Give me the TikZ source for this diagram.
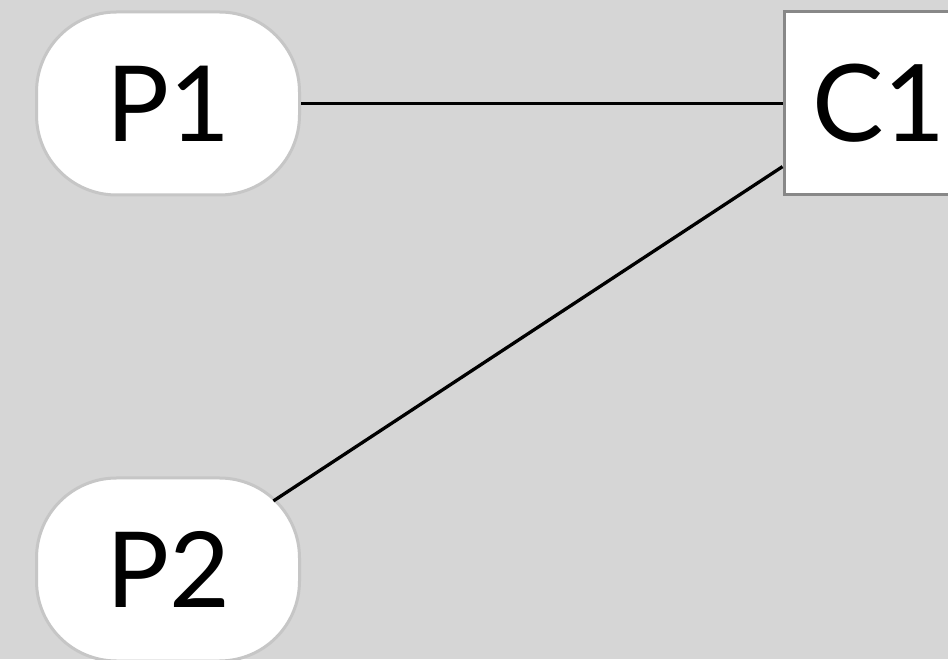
\documentclass[tikz,border=0pt]{standalone}
\usepackage{fontspec}
\setmainfont{Lato}
\definecolor{bg}{HTML}{D6D6D6}
\definecolor{pborder}{HTML}{C6C6C6}
\definecolor{cborder}{HTML}{888888}
\begin{document}
\begin{tikzpicture}[x=1pt,y=1pt,
  pnode/.style={draw=pborder, line width=3pt, fill=white, rounded corners=80pt,
    minimum width=263pt, minimum height=183pt, inner sep=0pt, font=\fontsize{105}{110}\selectfont},
  cnode/.style={draw=cborder, line width=3pt, fill=white,
    minimum width=190pt, minimum height=183pt, inner sep=0pt, font=\fontsize{107}{110}\selectfont},
  link/.style={line width=3.3pt, black}]
\fill[bg] (0,0) rectangle (948,659);
\useasboundingbox (0,0) rectangle (948,659);
\node[pnode] (P1) at (168,555.5) {P1};
\node[pnode] (P2) at (168,89.5) {P2};
\node[cnode] (C1) at (879,555.5) {C1};
\draw[link] (P1) -- (C1);
\draw[link, shorten <=-33pt] (P2) -- (C1);
\end{tikzpicture}
\end{document}
